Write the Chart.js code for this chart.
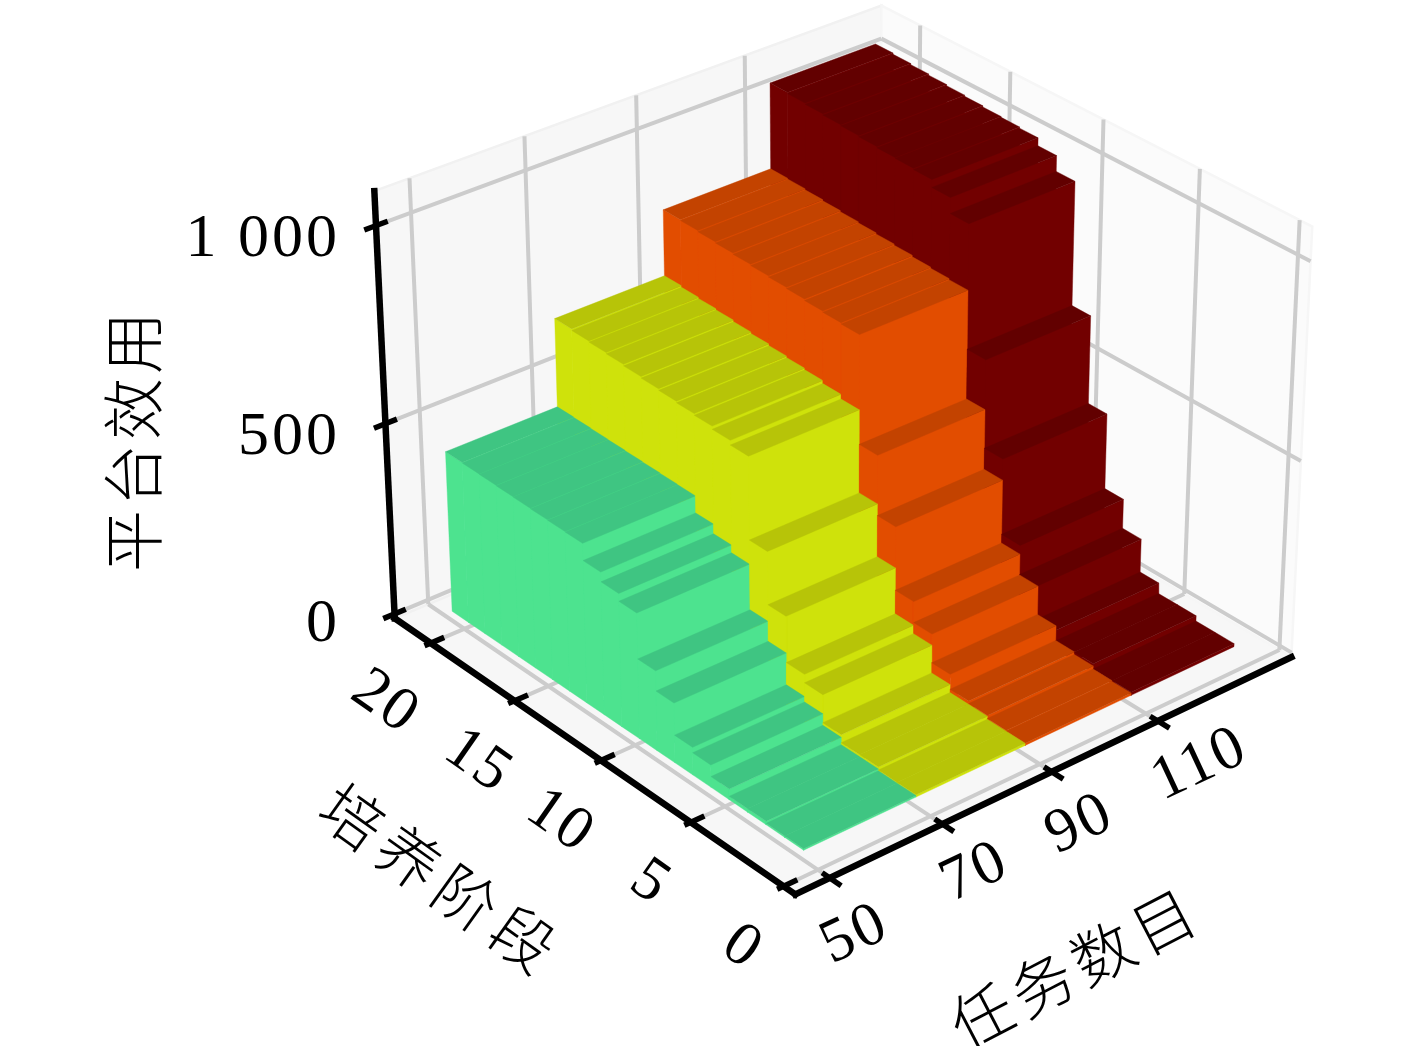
<!DOCTYPE html>
<html>
<head>
    <meta charset="utf-8">
    <title>平台效用</title>
    <script src="https://cdn.jsdelivr.net/npm/chart.js@4.4.1/dist/chart.umd.min.js"></script>
    <style>
        html, body { margin: 0; padding: 0; background: #fff; }
        canvas { display: block; }
    </style>
</head>

<body>
    <canvas id="myChart" width="1417" height="1046"></canvas>
    <script>
        // values, stage 1..20 from front to back
        const stages = [1, 2, 3, 4, 5, 6, 7, 8, 9, 10, 11, 12, 13, 14, 15, 16, 17, 18, 19, 20]
        const utility50 = [4, 4, 9, 9, 28, 58, 72, 155, 207, 325, 345, 370, 414, 415, 416, 417, 418, 419, 420, 421]
        const utility70 = [6, 6, 14, 14, 35, 108, 130, 250, 387, 600, 612, 620, 624, 628, 632, 636, 640, 643, 646, 650]
        const utility90 = [6, 8, 16, 23, 62, 137, 192, 357, 512, 790, 793, 796, 800, 803, 806, 809, 812, 815, 818, 820]
        const utility110 = [8, 8, 22, 22, 50, 138, 215, 412, 640, 957, 997, 1017, 1020, 1022, 1025, 1028, 1031, 1034, 1037, 1040]

        const taskEdges = [50.8, 70.8, 90.8, 110.8]
        const taskWidth = 20
        const series = [utility50, utility70, utility90, utility110]
        const sideColors = ['#4de38f', '#cfe20b', '#e24d00', '#720000']
        const topColors = ['#3fc582', '#b7c408', '#c34300', '#620000']

        const taskTicks = [50, 70, 90, 110]
        const stageTicks = [0, 5, 10, 15, 20]
        const utilityTicks = [0, 500, 1000]
        const taskLabels = ['50', '70', '90', '110']
        const stageLabels = ['0', '5', '10', '15', '20']
        const utilityLabels = ['0', '500', '1 000']

        // axis box
        const T0 = 44, T1 = 136
        const S0 = -0.62, S1 = 22.2
        const Z0 = -12, Z1 = 1085

        // camera, same idea as matplotlib's 3d view
        const elev = 30 * Math.PI / 180
        const azim = -130 * Math.PI / 180
        const dist = 10
        const boxL = 1.19, boxD = 1.175, boxH = 0.90
        const scale = 550, cx = 840.5, cy = 428
        const nv = [Math.cos(elev) * Math.cos(azim), Math.cos(elev) * Math.sin(azim), Math.sin(elev)]
        const uv = [-Math.sin(azim), Math.cos(azim), 0]
        const vv = [-Math.sin(elev) * Math.cos(azim), -Math.sin(elev) * Math.sin(azim), Math.cos(elev)]

        function project(t, s, z) {
            const p = [
                ((t - T0) / (T1 - T0) - 0.5) * boxL,
                ((s - S0) / (S1 - S0) - 0.5) * boxD,
                ((z - Z0) / (Z1 - Z0) - 0.5) * boxH
            ]
            const dot = a => a[0] * p[0] + a[1] * p[1] + a[2] * p[2]
            const f = dist / (dist - dot(nv))
            return { x: cx + scale * dot(uv) * f, y: cy - scale * dot(vv) * f }
        }

        const datasets = []

        function addPoly(corners, fill, edge) {
            const pts = corners.map(c => project(c[0], c[1], c[2]))
            pts.push(pts[0])
            datasets.push({
                data: pts, showLine: true, fill: 'shape', backgroundColor: fill,
                borderColor: edge || fill, borderWidth: edge ? 2.5 : 0.4, pointRadius: 0,
                clip: false, order: -datasets.length
            })
        }

        function addLine(a, b, color, width, cap) {
            datasets.push({
                data: [project(a[0], a[1], a[2]), project(b[0], b[1], b[2])],
                showLine: true, fill: false, borderColor: color, borderWidth: width,
                borderCapStyle: cap || 'butt', pointRadius: 0, clip: false, order: -datasets.length
            })
        }

        // panes
        addPoly([[T0, S0, Z0], [T1, S0, Z0], [T1, S1, Z0], [T0, S1, Z0]], '#f7f7f7')
        addPoly([[T0, S1, Z0], [T1, S1, Z0], [T1, S1, Z1], [T0, S1, Z1]], '#f7f7f7', '#f1f1f1')
        addPoly([[T1, S0, Z0], [T1, S1, Z0], [T1, S1, Z1], [T1, S0, Z1]], '#fbfbfb', '#f6f6f6')

        // grid
        const gridColor = '#cccccc', gridWidth = 4
        taskTicks.forEach(t => {
            addLine([t, S0, Z0], [t, S1, Z0], gridColor, gridWidth)
            addLine([t, S1, Z0], [t, S1, Z1], gridColor, gridWidth)
        })
        stageTicks.forEach(s => {
            addLine([T0, s, Z0], [T1, s, Z0], gridColor, gridWidth)
            addLine([T1, s, Z0], [T1, s, Z1], gridColor, gridWidth)
        })
        utilityTicks.forEach(z => {
            addLine([T0, S1, z], [T1, S1, z], gridColor, gridWidth)
            addLine([T1, S1, z], [T1, S0, z], gridColor, gridWidth)
        })

        // bars, far ones first
        for (let i = stages.length - 1; i >= 0; i--) {
            for (let k = series.length - 1; k >= 0; k--) {
                const t0 = taskEdges[k], t1 = t0 + taskWidth
                const s0 = stages[i], s1 = s0 + 1
                const z = series[k][i]
                addPoly([[t0, s0, 0], [t0, s1, 0], [t0, s1, z], [t0, s0, z]], sideColors[k])
                addPoly([[t0, s0, 0], [t1, s0, 0], [t1, s0, z], [t0, s0, z]], sideColors[k])
                addPoly([[t0, s0, z], [t1, s0, z], [t1, s1, z], [t0, s1, z]], topColors[k])
            }
        }

        // black axes and ticks
        addLine([T0, S0, Z0], [T1, S0, Z0], '#000', 6.5, 'square')
        addLine([T0, S0, Z0], [T0, S1, Z0], '#000', 6.5, 'square')
        addLine([T0, S1, Z0], [T0, S1, Z1], '#000', 6.5, 'square')
        taskTicks.forEach(t => addLine([t, S0 + 0.4, Z0], [t, S0 - 0.6, Z0], '#000', 5.5))
        stageTicks.forEach(s => addLine([T0 + 2.4, s, Z0], [T0 - 1.1, s, Z0], '#000', 5.5))
        utilityTicks.forEach(z => addLine([T0 + 2.0, S1, z], [T0 - 2.0, S1, z], '#000', 5.5))

        const labelPlugin = {
            id: 'labels3d',
            afterDraw(chart) {
                const ctx = chart.ctx
                const put = (text, x, y, deg, font, spacing, align) => {
                    ctx.save()
                    ctx.translate(x, y)
                    ctx.rotate(deg * Math.PI / 180)
                    ctx.font = font
                    ctx.letterSpacing = spacing
                    ctx.textAlign = align || 'center'
                    ctx.textBaseline = 'middle'
                    ctx.fillStyle = '#000'
                    ctx.fillText(text, 0, 0)
                    ctx.restore()
                }
                const num = '62px "Liberation Serif"'
                const cjk = '300 62px "Noto Sans CJK SC"'
                const stagePos = [[742, 948], [650, 883], [560, 822], [478, 762], [385, 703]]
                const taskPos = [[855, 935], [975, 873], [1080, 825], [1200, 765]]
                const utilPos = [625, 438, 240]
                stageLabels.forEach((l, i) => put(l, stagePos[i][0], stagePos[i][1], 35, num, '2.5px'))
                taskLabels.forEach((l, i) => put(l, taskPos[i][0], taskPos[i][1], -25, num, '2.5px'))
                utilityLabels.forEach((l, i) => put(l, 340, utilPos[i], 0, num, '3px', 'right'))
                put('平台效用', 133, 440, -90, cjk, '4px')
                put('培养阶段', 441, 880, 35.6, cjk, '8px')
                put('任务数目', 1075, 967, -27.5, cjk, '6px')
            }
        }

        new Chart(document.getElementById('myChart').getContext('2d'), {
            type: 'scatter',
            data: { datasets },
            options: {
                responsive: false,
                animation: false,
                events: [],
                layout: { padding: 0 },
                plugins: { legend: { display: false }, tooltip: { enabled: false } },
                elements: { line: { tension: 0, borderJoinStyle: 'miter' } },
                scales: {
                    x: { type: 'linear', display: false, min: 0, max: 1417 },
                    y: { type: 'linear', display: false, min: 0, max: 1046, reverse: true }
                }
            },
            plugins: [labelPlugin]
        })
    </script>
</body>

</html>
